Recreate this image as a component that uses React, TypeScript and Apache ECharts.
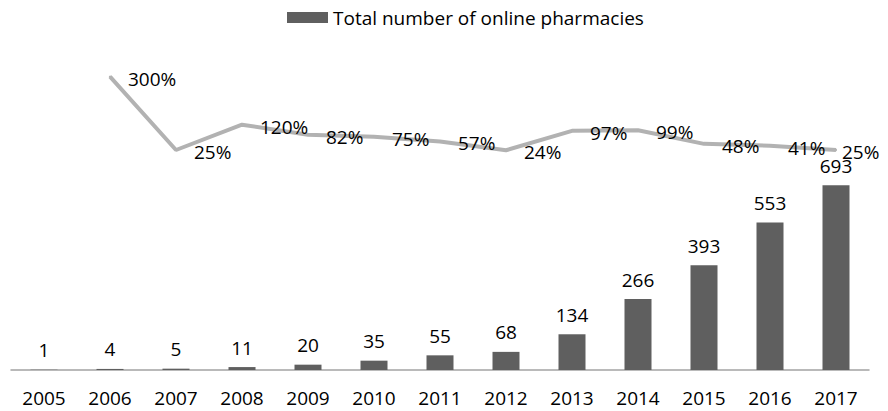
import React, { useEffect, useRef } from "react";
import * as echarts from "echarts";

const years = ["2005", "2006", "2007", "2008", "2009", "2010", "2011", "2012", "2013", "2014", "2015", "2016", "2017"];
const pharmacies = [1, 4, 5, 11, 20, 35, 55, 68, 134, 266, 393, 553, 693];
const growthPct: (number | string)[] = ["-", 300, 25, 120, 82, 75, 57, 24, 97, 99, 48, 41, 25];
const barName = "Total number of online pharmacies";

const FONT = "Open Sans";
const FS = 19;

export default function App() {
  const ref = useRef<HTMLDivElement>(null);
  useEffect(() => {
    if (!ref.current) return;
    const chart = echarts.init(ref.current, undefined, { renderer: "svg" });
    const lineData = growthPct.map((v, i) =>
      i === growthPct.length - 1 ? { value: v, label: { distance: 5 } } : v
    );
    chart.setOption({
      animation: false,
      textStyle: { fontFamily: FONT },
      legend: {
        data: [{ name: barName, icon: "rect" }],
        left: 282,
        top: 3,
        itemWidth: 41,
        itemHeight: 11,
        itemGap: 5,
        textStyle: { fontSize: FS, color: "#000", fontFamily: FONT },
      },
      grid: { left: 11, right: 19, top: 50, bottom: 41, containLabel: false },
      xAxis: {
        type: "category",
        data: years,
        axisLine: { show: true, lineStyle: { color: "#a3a3a3", width: 1.5 } },
        axisTick: { show: false },
        axisLabel: { fontSize: FS, color: "#000", margin: 18, fontFamily: FONT },
      },
      yAxis: [
        { type: "value", min: 0, max: 1200, show: false, splitLine: { show: false } },
        { type: "value", min: -800, max: 400, show: false, splitLine: { show: false } },
      ],
      series: [
        {
          name: barName,
          type: "bar",
          data: pharmacies,
          barWidth: 27,
          itemStyle: { color: "#5f5f5f" },
          label: {
            show: true,
            position: "top",
            distance: 10,
            fontSize: FS,
            color: "#000",
            fontFamily: FONT,
          },
        },
        {
          name: "Growth",
          type: "line",
          yAxisIndex: 1,
          data: lineData,
          symbol: "circle",
          symbolSize: 2,
          lineStyle: { color: "#b2b2b2", width: 4 },
          itemStyle: { color: "#b2b2b2" },
          label: {
            show: true,
            position: "right",
            distance: 17,
            offset: [0, 2],
            formatter: "{c}%",
            fontSize: FS,
            color: "#000",
            fontFamily: FONT,
          },
        },
      ],
    });
    return () => chart.dispose();
  }, []);
  return (
    <div
      ref={ref}
      style={{ position: "fixed", left: 0, top: 0, width: 888, height: 411, background: "#fff" }}
    />
  );
}
